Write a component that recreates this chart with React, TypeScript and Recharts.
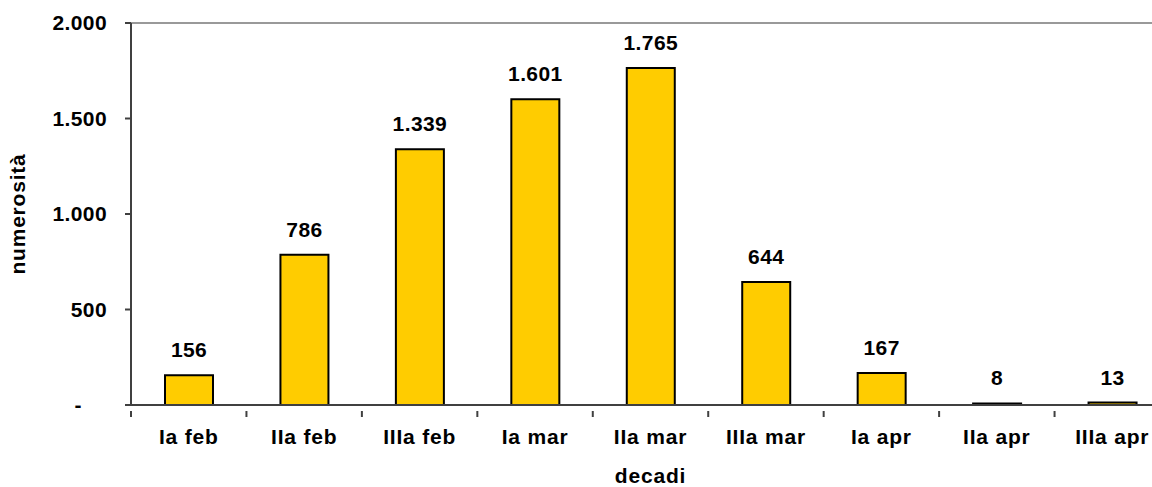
import { BarChart, Bar, XAxis, YAxis, LabelList, ReferenceLine } from 'recharts'

const decadi = ['Ia feb', 'IIa feb', 'IIIa feb', 'Ia mar', 'IIa mar', 'IIIa mar', 'Ia apr', 'IIa apr', 'IIIa apr']
const numerosita = [156, 786, 1339, 1601, 1765, 644, 167, 8, 13]
const yTicks = [0, 500, 1000, 1500, 2000]

const data = decadi.map((d, i) => ({ decade: d, value: numerosita[i] }))

const FONT = '"Liberation Sans", Arial, sans-serif'
const AXIS = '#404040'
const CHART_W = 1190
const MARGIN = { top: 23, right: 20, bottom: 0, left: 0 }
const Y_W = 131
const STEP = (CHART_W - MARGIN.left - MARGIN.right - Y_W) / decadi.length

// thousands separator with a dot, zero shown as a dash
const fmt = (v: number) => (v === 0 ? '-' : String(v).replace(/\B(?=(\d{3})+(?!\d))/g, '.'))

function YTick({ x, y, payload }: any) {
  const v = payload.value as number
  return (
    <text
      x={v === 0 ? x - 25 : x}
      y={y}
      dy="0.355em"
      textAnchor="end"
      fontFamily={FONT}
      fontSize={21}
      fontWeight="bold"
      letterSpacing={0.4}
      fill="#000"
    >
      {fmt(v)}
    </text>
  )
}

function XTick({ x, y, payload }: any) {
  const axisY = y - 18
  const left = x - STEP / 2
  return (
    <g>
      <line x1={left} x2={left} y1={axisY} y2={axisY + 6} stroke={AXIS} strokeWidth={2} />
      <text
        x={x}
        y={y}
        dy="0.71em"
        textAnchor="middle"
        fontFamily={FONT}
        fontSize={21}
        fontWeight="bold"
        letterSpacing={0.8}
        fill="#000"
      >
        {payload.value}
      </text>
    </g>
  )
}

export default function App() {
  return (
    <div style={{ position: 'absolute', left: 0, top: 0, width: 1152, height: 487, overflow: 'hidden', background: '#fff' }}>
      <BarChart width={CHART_W} height={487} data={data} margin={MARGIN} barSize={48}>
        <ReferenceLine y={2000} stroke="#999999" strokeWidth={2} />
        <XAxis
          dataKey="decade"
          height={82}
          axisLine={{ stroke: AXIS, strokeWidth: 2 }}
          tickLine={false}
          tickMargin={18}
          interval={0}
          tick={<XTick />}
          label={{
            content: ({ viewBox }: any) => (
              <text
                x={viewBox.x + viewBox.width / 2}
                y={viewBox.y + 78}
                textAnchor="middle"
                fontFamily={FONT}
                fontSize={21}
                fontWeight="bold"
                letterSpacing={0.8}
                fill="#000"
              >
                decadi
              </text>
            ),
          }}
        />
        <YAxis
          width={Y_W}
          domain={[0, 2000]}
          ticks={yTicks}
          axisLine={{ stroke: AXIS, strokeWidth: 2 }}
          tickLine={{ stroke: AXIS, strokeWidth: 2 }}
          tickSize={6}
          tickMargin={18}
          tick={<YTick />}
          label={{
            content: ({ viewBox }: any) => {
              const cx = viewBox.x + 18
              const cy = viewBox.y + viewBox.height / 2
              return (
                <text
                  x={cx}
                  y={cy}
                  transform={`rotate(-90, ${cx}, ${cy})`}
                  textAnchor="middle"
                  dy="0.355em"
                  fontFamily={FONT}
                  fontSize={21}
                  fontWeight="bold"
                  letterSpacing={0.8}
                  fill="#000"
                >
                  numerosità
                </text>
              )
            },
          }}
        />
        <Bar dataKey="value" fill="#FFCC00" stroke="#000" strokeWidth={2} isAnimationActive={false}>
          <LabelList
            dataKey="value"
            position="top"
            offset={18}
            formatter={(v: any) => fmt(Number(v))}
            fontFamily={FONT}
            fontSize={21}
            fontWeight="bold"
            fill="#000"
            style={{ letterSpacing: 0.4 }}
          />
        </Bar>
      </BarChart>
    </div>
  )
}
